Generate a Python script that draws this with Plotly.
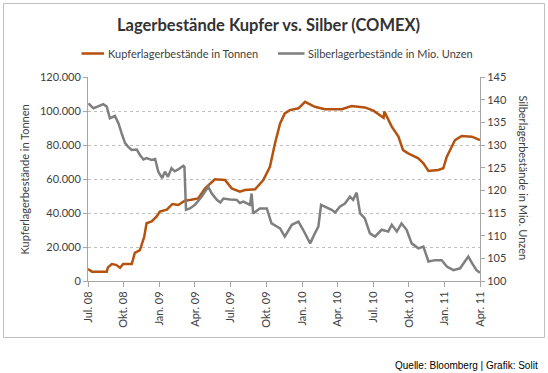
import plotly.graph_objects as go

# ---- data ----
copper_dates = [
    "2008-07-01", "2008-07-11", "2008-08-18", "2008-08-21", "2008-08-31", "2008-09-11",
    "2008-09-21", "2008-09-29", "2008-10-21", "2008-10-29", "2008-11-11", "2008-11-22",
    "2008-11-28", "2008-12-11", "2008-12-24", "2009-01-01", "2009-01-19", "2009-02-02",
    "2009-02-17", "2009-03-06", "2009-03-19", "2009-04-09", "2009-04-27", "2009-05-22",
    "2009-06-17", "2009-07-04", "2009-07-25", "2009-08-07", "2009-09-02", "2009-09-23",
    "2009-10-10", "2009-10-23", "2009-11-05", "2009-11-17", "2009-11-30", "2009-12-22",
    "2010-01-08", "2010-02-02", "2010-02-28", "2010-04-12", "2010-05-07", "2010-06-10",
    "2010-07-02", "2010-07-23", "2010-07-28", "2010-07-30", "2010-08-09", "2010-08-18",
    "2010-09-04", "2010-09-16", "2010-09-29", "2010-10-25", "2010-11-07", "2010-11-20",
    "2010-12-15", "2010-12-28", "2011-01-06", "2011-01-27", "2011-02-13", "2011-03-11",
    "2011-04-01",
]
copper_tonnes = [
    7000, 5500, 5500, 8000, 10000, 9500,
    7800, 10000, 10000, 16600, 18200, 26000,
    34000, 35000, 38000, 40800, 42000, 45300,
    44700, 47200, 47600, 48600, 54500, 59800,
    59400, 54500, 52500, 53500, 53900, 59400,
    67200, 81000, 92700, 98600, 100500, 101600,
    105400, 102500, 101000, 101000, 102900, 102100,
    100200, 96600, 96000, 99600, 94700, 90800,
    84900, 77000, 75100, 72200, 69200, 64700,
    65300, 66300, 73100, 82900, 85300, 84900,
    82900,
]

silver_dates = [
    "2008-07-02", "2008-07-15", "2008-07-27", "2008-08-09", "2008-08-18", "2008-08-26",
    "2008-09-08", "2008-09-17", "2008-09-25", "2008-10-04", "2008-10-12", "2008-10-21",
    "2008-11-03", "2008-11-11", "2008-11-20", "2008-11-28", "2008-12-11", "2008-12-20",
    "2008-12-28", "2009-01-07", "2009-01-14", "2009-01-22", "2009-01-31", "2009-02-08",
    "2009-02-17", "2009-03-02",
    "2009-03-05", "2009-03-09", "2009-03-19", "2009-04-01", "2009-04-18", "2009-05-05",
    "2009-05-14", "2009-05-27", "2009-06-05", "2009-06-13", "2009-06-30", "2009-07-17",
    "2009-07-25", "2009-08-03",
    "2009-08-20", "2009-08-24", "2009-08-28", "2009-09-14", "2009-10-02", "2009-10-14",
    "2009-11-05", "2009-11-17", "2009-12-05", "2009-12-22", "2010-01-03", "2010-01-21",
    "2010-02-02", "2010-02-11", "2010-02-18", "2010-02-28", "2010-03-17", "2010-03-26",
    "2010-04-07", "2010-04-20", "2010-05-03", "2010-05-11", "2010-05-20", "2010-05-29",
    "2010-06-10", "2010-06-23", "2010-07-06", "2010-07-23", "2010-08-09", "2010-08-18",
    "2010-08-31", "2010-09-12", "2010-09-25", "2010-10-08", "2010-10-25", "2010-11-07",
    "2010-11-20", "2010-12-07", "2010-12-24", "2011-01-06", "2011-01-23", "2011-02-09",
    "2011-02-22", "2011-03-02", "2011-03-12", "2011-03-23", "2011-04-01",
]
silver_moz = [
    139.2, 138.1, 138.5, 139.0, 138.5, 135.9,
    136.4, 134.8, 132.6, 130.4, 129.6, 128.9,
    129.0, 127.8, 126.8, 127.1, 126.7, 126.9,
    124.1, 122.7, 124.1, 123.0, 124.9, 124.2,
    124.6, 125.4,
    125.2, 115.7, 116.0, 116.8, 118.6, 120.8,
    119.3, 117.9, 117.3, 118.2, 118.0, 117.9,
    117.2, 117.5,
    116.8, 119.3, 114.9, 116.0, 116.0, 112.7,
    111.6, 109.8, 112.4, 113.1, 111.3, 108.3,
    110.5, 112.0, 116.8, 116.4, 115.7, 115.1,
    116.4, 117.1, 118.6, 117.9, 119.5, 114.9,
    113.8, 110.5, 109.8, 111.3, 110.9, 112.4,
    110.9, 112.7, 111.3, 108.3, 107.2, 107.6,
    104.3, 104.6, 104.6, 103.2, 102.4, 102.8,
    104.6, 105.4, 103.9, 102.4, 101.8,
]

x_tick_dates = ["2008-07-01", "2008-10-01", "2009-01-01", "2009-04-01", "2009-07-01",
                "2009-10-01", "2010-01-01", "2010-04-01", "2010-07-01", "2010-10-01",
                "2011-01-01", "2011-04-01"]
x_tick_labels = ["Jul. 08", "Okt. 08", "Jan. 09", "Apr. 09", "Jul. 09", "Okt. 09",
                 "Jan. 10", "Apr. 10", "Jul. 10", "Okt. 10", "Jan. 11", "Apr. 11"]
left_ticks = [0, 20000, 40000, 60000, 80000, 100000, 120000]
left_labels = ["0", "20.000", "40.000", "60.000", "80.000", "100.000", "120.000"]
right_ticks = [100, 105, 110, 115, 120, 125, 130, 135, 140, 145]

title_text = "Lagerbestände Kupfer vs. Silber (COMEX)"
copper_name = "Kupferlagerbestände in Tonnen"
silver_name = "Silberlagerbestände in Mio. Unzen"
source_text = "Quelle: Bloomberg | Grafik: Solit"

COPPER = "#B5520F"
SILVER = "#7F7F7F"
TXT = "#404040"
FONT = "Lato"

W, H = 548, 373
L, R, T, B = 88, 480, 77, 281


def px(x):
    return (x - L) / (R - L)


def py(y):
    return (B - y) / (B - T)


fig = go.Figure()
fig.add_trace(go.Scatter(x=silver_dates, y=silver_moz, name=silver_name, mode="lines",
                         line=dict(color=SILVER, width=2.5), yaxis="y2"))
fig.add_trace(go.Scatter(x=copper_dates, y=copper_tonnes, name=copper_name, mode="lines",
                         line=dict(color=COPPER, width=2.5), yaxis="y"))

axis_col = "#A6A6A6"
fig.update_layout(
    width=W, height=H,
    margin=dict(l=L, r=W - R, t=T, b=H - B),
    paper_bgcolor="white", plot_bgcolor="white",
    showlegend=False,
    font=dict(family=FONT, size=11, color=TXT),
    xaxis=dict(type="date", range=["2008-07-01", "2011-04-01"],
               tickvals=x_tick_dates, ticktext=x_tick_labels, tickangle=-90,
               showgrid=False, zeroline=False, showline=True, linecolor=axis_col,
               ticks="outside", ticklen=5, tickcolor=axis_col,
               tickfont=dict(family=FONT, size=11, color=TXT)),
    yaxis=dict(range=[0, 120000], tickvals=left_ticks, ticktext=left_labels,
               showgrid=True, gridcolor="#BFBFBF", griddash="dot", gridwidth=1,
               zeroline=False, showline=True, linecolor=axis_col,
               ticks="outside", ticklen=4, tickcolor=axis_col,
               tickfont=dict(family=FONT, size=11, color=TXT)),
    yaxis2=dict(range=[100, 145], tickvals=right_ticks, overlaying="y", side="right",
                showgrid=False, zeroline=False, showline=True, linecolor=axis_col,
                ticks="outside", ticklen=4, tickcolor=axis_col,
                tickfont=dict(family=FONT, size=11, color=TXT)),
)

shapes = [
    dict(type="rect", xref="paper", yref="paper", x0=px(3.5), x1=px(544.5),
         y0=py(337.5), y1=py(3.5), line=dict(color="#BFBFBF", width=1), layer="below"),
    dict(type="line", xref="paper", yref="paper", x0=px(81.5), x1=px(104),
         y0=py(53.5), y1=py(53.5), line=dict(color=COPPER, width=2.5)),
    dict(type="line", xref="paper", yref="paper", x0=px(278), x1=px(304.5),
         y0=py(53.5), y1=py(53.5), line=dict(color=SILVER, width=2.5)),
]
fig.update_layout(shapes=shapes)

ann = [
    dict(text="<b>" + title_text + "</b>", x=px(268), y=py(25), xref="paper", yref="paper",
         showarrow=False, xanchor="center", yanchor="middle",
         font=dict(family=FONT, size=16.5, color="#333333")),
    dict(text=copper_name, x=px(106), y=py(53.5), xref="paper", yref="paper",
         showarrow=False, xanchor="left", yanchor="middle",
         font=dict(family=FONT, size=11, color=TXT)),
    dict(text=silver_name, x=px(306), y=py(53.5), xref="paper", yref="paper",
         showarrow=False, xanchor="left", yanchor="middle",
         font=dict(family=FONT, size=11, color=TXT)),
    dict(text=copper_name, x=px(24), y=py(179.5), xref="paper", yref="paper",
         showarrow=False, xanchor="center", yanchor="middle", textangle=-90,
         font=dict(family=FONT, size=11, color=TXT)),
    dict(text=silver_name, x=px(523), y=py(177.5), xref="paper", yref="paper",
         showarrow=False, xanchor="center", yanchor="middle", textangle=90,
         font=dict(family=FONT, size=11, color=TXT)),
    dict(text=source_text, x=px(540), y=py(365), xref="paper", yref="paper",
         showarrow=False, xanchor="right", yanchor="middle",
         font=dict(family="Liberation Sans", size=10, color="#000000")),
]
fig.update_layout(annotations=ann)

fig.write_html("out.html", config={"displayModeBar": False},
               post_script="document.body.style.margin='0';document.body.style.padding='0';")
